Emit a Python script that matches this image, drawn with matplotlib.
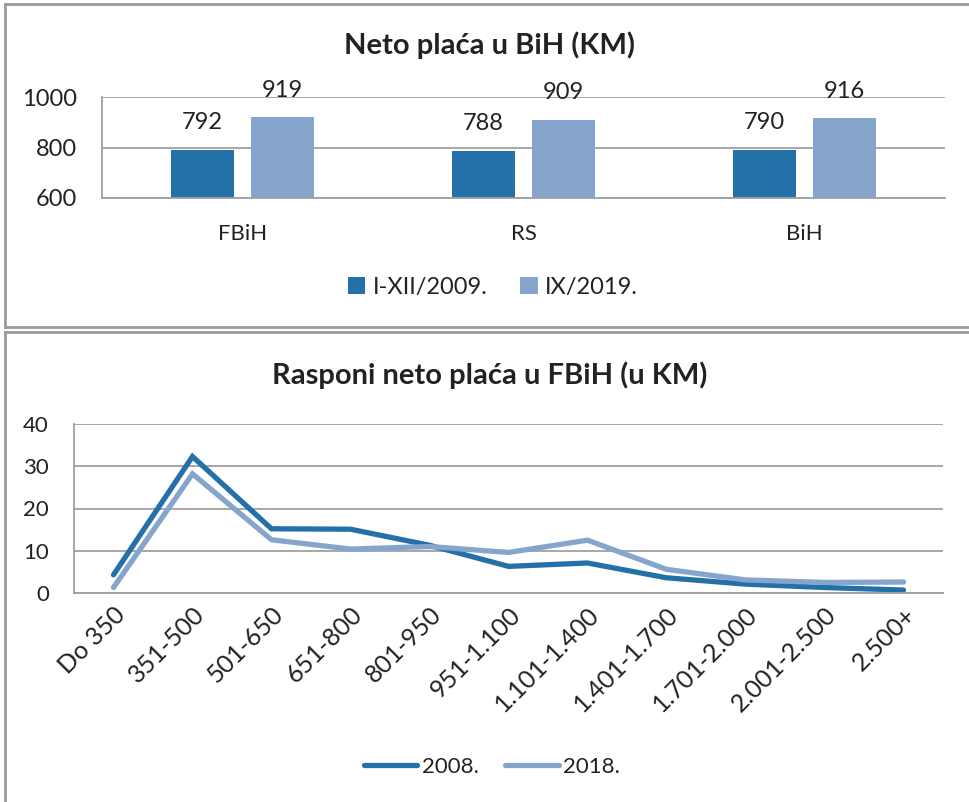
import matplotlib
matplotlib.use("Agg")
import matplotlib.pyplot as plt
from matplotlib.lines import Line2D

plt.rcParams["font.family"] = ["Lato", "DejaVu Sans"]

# --- data -------------------------------------------------------------
regions = ["FBiH", "RS", "BiH"]
pay_2009 = [792, 788, 790]
pay_2019 = [919, 909, 916]
bar_labels = ["I-XII/2009.", "IX/2019."]

ranges = ["Do 350", "351-500", "501-650", "651-800", "801-950", "951-1.100",
          "1.101-1.400", "1.401-1.700", "1.701-2.000", "2.001-2.500", "2.500+"]
share_2008 = [4.3, 32.3, 15.2, 15.1, 11.3, 6.3, 7.1, 3.6, 2.1, 1.3, 0.7]
share_2018 = [1.3, 28.2, 12.6, 10.4, 11.0, 9.6, 12.5, 5.6, 3.1, 2.5, 2.6]
line_labels = ["2008.", "2018."]

DARK = "#2371a8"
LIGHT = "#85a5cd"
GRID = "#a0a0a0"
TEXT = "#222222"

W, H = 970, 802
fig = plt.figure(figsize=(W / 100, H / 100), dpi=100)
fig.patch.set_facecolor("white")


def px_axes(x0, y0, x1, y1):
    # axes box given in pixel coords (top-left origin)
    return fig.add_axes([x0 / W, 1 - y1 / H, (x1 - x0) / W, (y1 - y0) / H])


def style_axes(ax):
    for s in ["top", "right"]:
        ax.spines[s].set_visible(False)
    for s in ["left", "bottom"]:
        ax.spines[s].set_color(GRID)
        ax.spines[s].set_linewidth(1.3)
    ax.grid(axis="y", color=GRID, linewidth=1.3)
    ax.set_axisbelow(True)
    ax.tick_params(length=0, colors=TEXT)


# panel frames
frame = dict(color="#9a9a9a", linewidth=2, transform=None)
for (xa, ya, xb, yb) in [(5, 3.5, W, 3.5), (5, 3.5, 5, 327), (5, 327, W, 327),
                         (5, 331.5, W, 331.5), (5, 331.5, 5, H)]:
    fig.add_artist(Line2D([xa, xb], [H - ya, H - yb], **frame))

# ===== top: bar chart =====
ax1 = px_axes(102, 97, 945, 198)
style_axes(ax1)
x = range(len(regions))
bw = 0.224
off = 0.142
b1 = ax1.bar([i - off for i in x], pay_2009, width=bw, color=DARK, label=bar_labels[0])
b2 = ax1.bar([i + off for i in x], pay_2019, width=bw, color=LIGHT, label=bar_labels[1])
ax1.set_xlim(-0.5, len(regions) - 0.5)
ax1.set_ylim(600, 1000)
ax1.set_yticks([600, 800, 1000])
ax1.set_xticks(list(x))
ax1.set_xticklabels(regions)
ax1.tick_params(axis="y", labelsize=17, pad=18)
ax1.tick_params(axis="x", labelsize=16, pad=19)

for bars, vals in [(b1, pay_2009), (b2, pay_2019)]:
    for bar, v in zip(bars, vals):
        ax1.annotate(f"{v}", (bar.get_x() + bar.get_width() / 2, v),
                     xytext=(0, 19.5), textcoords="offset points",
                     ha="center", va="center", fontsize=17, color=TEXT)

fig.text(490 / W, 1 - 45 / H, "Neto plaća u BiH (KM)", ha="center", va="center",
         fontsize=21, fontweight="bold", color=TEXT)

fig.legend(handles=[b1, b2], labels=bar_labels, loc="center",
           bbox_to_anchor=(493 / W, 1 - 287 / H), ncol=2, frameon=False,
           fontsize=17, handlelength=0.75, handleheight=0.75,
           handletextpad=0.3, columnspacing=1.4, labelcolor=TEXT)

# ===== bottom: line chart =====
ax2 = px_axes(74, 424, 943, 593)
style_axes(ax2)
l1, = ax2.plot(ranges, share_2008, color=DARK, linewidth=3.8,
               solid_capstyle="round", solid_joinstyle="miter", label=line_labels[0])
l2, = ax2.plot(ranges, share_2018, color=LIGHT, linewidth=3.8,
               solid_capstyle="round", solid_joinstyle="miter", label=line_labels[1])
ax2.set_xlim(-0.5, len(ranges) - 0.5)
ax2.set_ylim(0, 40)
ax2.set_yticks([0, 10, 20, 30, 40])
ax2.tick_params(axis="y", labelsize=16, pad=18)
ax2.tick_params(axis="x", labelsize=18, pad=7)
for lab in ax2.get_xticklabels():
    lab.set_rotation(45)
    lab.set_ha("right")
    lab.set_va("top")
    lab.set_rotation_mode("anchor")

fig.text(490 / W, 1 - 375 / H, "Rasponi neto plaća u FBiH (u KM)", ha="center",
         va="center", fontsize=21, fontweight="bold", color=TEXT)

fig.legend(handles=[l1, l2], labels=line_labels, loc="center",
           bbox_to_anchor=(492 / W, 1 - 767 / H), ncol=2, frameon=False,
           fontsize=16, handlelength=2.4, handletextpad=0.2,
           columnspacing=1.2, labelcolor=TEXT)

fig.savefig("out.png", dpi=100, facecolor="white")
